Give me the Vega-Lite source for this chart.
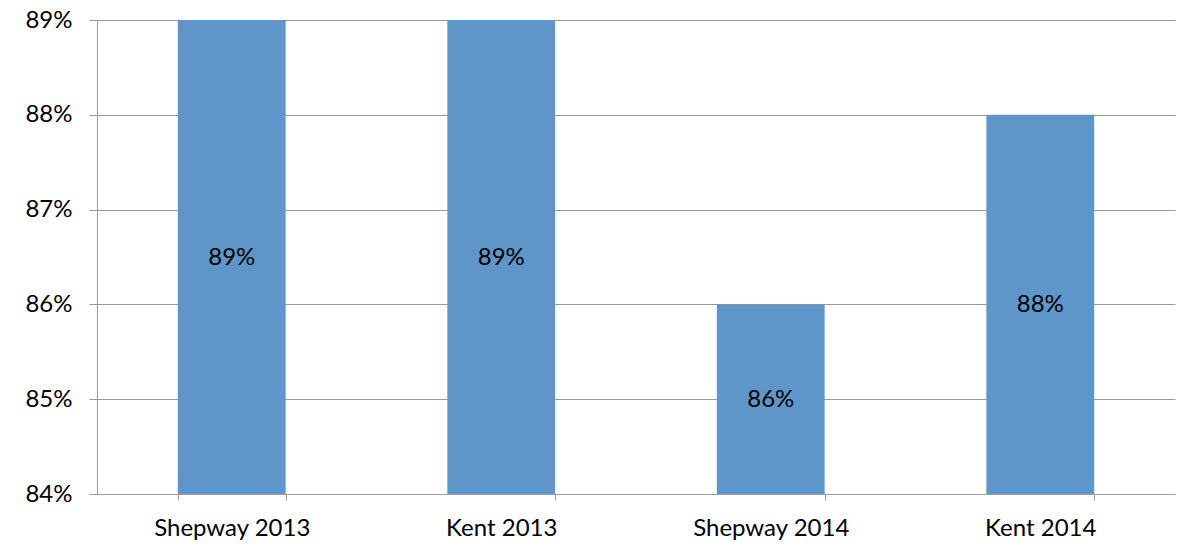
{
  "$schema": "https://vega.github.io/schema/vega-lite/v6.json",
  "width": 1078,
  "height": 474,
  "autosize": {"type": "none"},
  "padding": {"left": 97, "top": 20, "right": 27, "bottom": 62},
  "background": "white",
  "config": {
    "view": {"stroke": null},
    "font": "Lato",
    "axis": {"labelFont": "Lato", "labelFontSize": 24, "labelColor": "#000000"}
  },
  "data": {
    "values": [
      {"category": "Shepway 2013", "value": 0.89},
      {"category": "Kent 2013", "value": 0.89},
      {"category": "Shepway 2014", "value": 0.86},
      {"category": "Kent 2014", "value": 0.88}
    ]
  },
  "encoding": {
    "x": {
      "field": "category",
      "type": "nominal",
      "sort": null,
      "scale": {"paddingInner": 0.6, "paddingOuter": 0.3},
      "axis": {
        "title": null,
        "labelAngle": 0,
        "tickBand": "extent",
        "tickSize": 6,
        "tickColor": "#a0a0a0",
        "domainColor": "#a0a0a0",
        "labelPadding": 16,
        "grid": false
      }
    }
  },
  "layer": [
    {
      "mark": {"type": "bar", "color": "#5e96c9", "clip": true},
      "encoding": {
        "y": {
          "field": "value",
          "type": "quantitative",
          "scale": {"domain": [0.84, 0.89], "zero": false, "nice": false},
          "axis": {
            "title": null,
            "format": ".0%",
            "values": [0.84, 0.85, 0.86, 0.87, 0.88, 0.89],
            "tickSize": 8,
            "tickColor": "#999999",
            "domainColor": "#999999",
            "gridColor": "#999999",
            "gridOpacity": 1,
            "labelPadding": 17
          }
        }
      }
    },
    {
      "transform": [{"calculate": "(datum.value + 0.84) / 2", "as": "mid"}],
      "mark": {"type": "text", "fontSize": 24, "color": "#000000", "baseline": "middle", "dy": 1},
      "encoding": {
        "y": {"field": "mid", "type": "quantitative"},
        "text": {"field": "value", "type": "quantitative", "format": ".0%"}
      }
    }
  ]
}
